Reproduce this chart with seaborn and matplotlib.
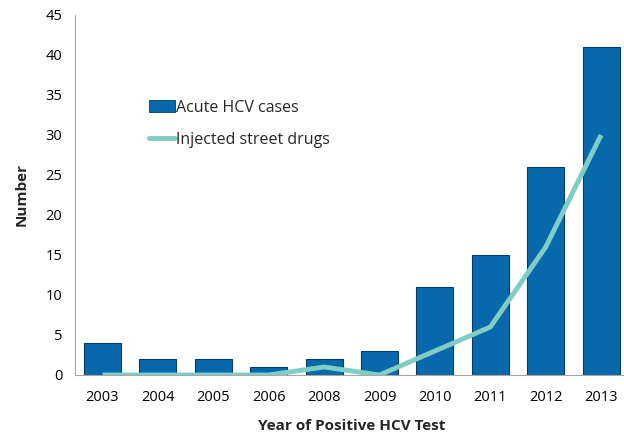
import numpy as np
import pandas as pd
import matplotlib
matplotlib.use("Agg")
import matplotlib.pyplot as plt
import seaborn as sns
from matplotlib.patches import Patch
from matplotlib.lines import Line2D

# data
years = ["2003", "2004", "2005", "2006", "2008", "2009", "2010", "2011", "2012", "2013"]
acute_cases = [4, 2, 2, 1, 2, 3, 11, 15, 26, 41]
injected_drugs = [0, 0, 0, 0, 1, 0, 3, 6, 16, 30]

df = pd.DataFrame({"year": years, "cases": acute_cases, "drugs": injected_drugs})

sns.set_theme(style="white")
plt.rcParams["font.family"] = ["Open Sans", "DejaVu Sans"]

bar_color = "#0868AC"
line_color = "#7FCDC4"

fig, ax = plt.subplots(figsize=(6.24, 4.38), dpi=100)
# plot area runs slightly past the right edge, as in the cropped original
ax.set_position([74.8 / 624, 1 - 375 / 438, 554 / 624, 360 / 438])

sns.barplot(data=df, x="year", y="cases", color=bar_color, width=0.67,
            edgecolor="#0a3a5e", linewidth=0.8, saturation=1, ax=ax)
ax.plot(np.arange(len(years)), df["drugs"], color=line_color, linewidth=3.5,
        solid_capstyle="butt", zorder=3)

ax.set_xlim(-0.5, len(years) - 0.5)
ax.set_ylim(0, 45)
ax.set_yticks(range(0, 46, 5))
ax.set_xticks(np.arange(len(years)))
ax.set_xticklabels(years)
ax.set_xticks(np.arange(len(years) + 1) - 0.5, minor=True)
ax.tick_params(axis="x", which="major", length=0, pad=11, labelsize=10.5)
ax.tick_params(axis="x", which="minor", length=5, color="#a6a6a6", width=0.8)
ax.tick_params(axis="y", length=5, color="#a6a6a6", width=0.8, labelsize=10.5, pad=4)
ax.tick_params(axis="both", colors="#a6a6a6", labelcolor="black", direction="out")

for side in ["top", "right"]:
    ax.spines[side].set_visible(False)
for side in ["left", "bottom"]:
    ax.spines[side].set_color("#a6a6a6")
    ax.spines[side].set_linewidth(0.8)

ax.set_xlabel("Year of Positive HCV Test", fontsize=11, fontweight="bold", labelpad=10)
ax.set_ylabel("Number", fontsize=11, fontweight="bold", labelpad=12)

handles = [
    Patch(facecolor=bar_color, edgecolor="#0a3a5e", linewidth=0.6),
    Line2D([0], [0], color=line_color, linewidth=3.5),
]
ax.legend(handles, ["Acute HCV cases", "Injected street drugs"],
          loc="upper left", bbox_to_anchor=(0.108, 0.805), frameon=False,
          fontsize=11.5, handlelength=1.6, handletextpad=0.1, labelspacing=1.0)

fig.savefig("out.png", dpi=100)
